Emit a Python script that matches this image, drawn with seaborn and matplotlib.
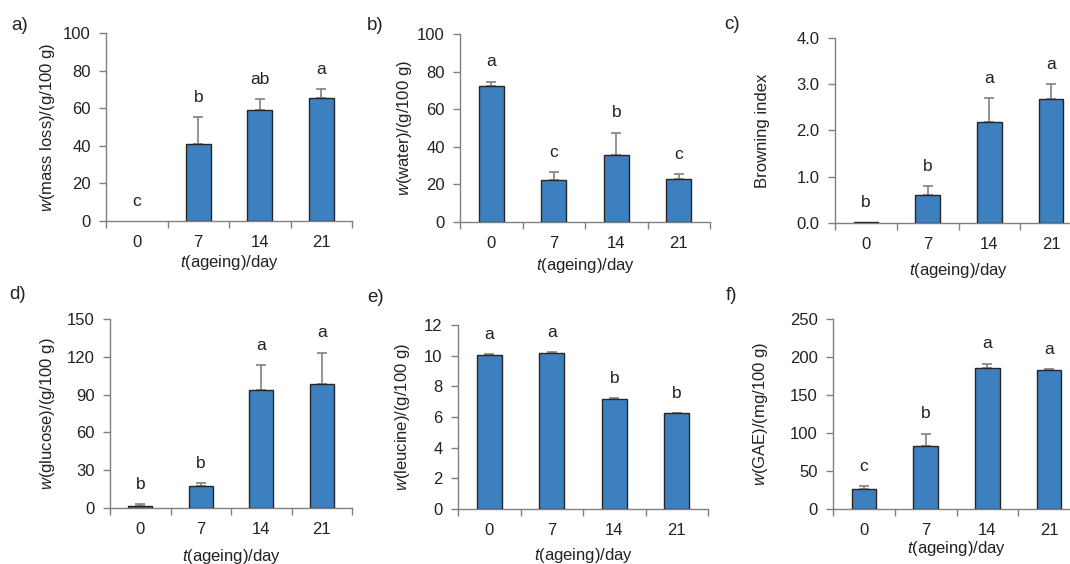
import matplotlib
matplotlib.use("Agg")
import matplotlib.pyplot as plt
import seaborn as sns
from matplotlib.ticker import FixedLocator

days = ["0", "7", "14", "21"]

mass_loss = [0.0, 40.9, 59.1, 65.4]
mass_loss_err = [0.0, 14.3, 5.7, 4.8]
mass_loss_sig = ["c", "b", "ab", "a"]

water = [72.6, 22.6, 35.9, 23.1]
water_err = [2.0, 3.9, 11.7, 2.3]
water_sig = ["a", "c", "b", "c"]

browning = [0.02, 0.61, 2.19, 2.69]
browning_err = [0.0, 0.19, 0.51, 0.32]
browning_sig = ["b", "b", "a", "a"]

glucose = [1.9, 17.8, 93.5, 98.2]
glucose_err = [1.3, 1.8, 19.9, 25.0]
glucose_sig = ["b", "b", "a", "a"]

leucine = [10.07, 10.18, 7.2, 6.24]
leucine_err = [0.04, 0.03, 0.03, 0.03]
leucine_sig = ["a", "a", "b", "b"]

gae = [26.4, 82.3, 185.7, 182.7]
gae_err = [4.0, 16.7, 5.7, 1.3]
gae_sig = ["c", "b", "a", "a"]

W, H = 1070, 564
BAR = "#3d80bf"
EDGE = "#262626"
GREY = "#808080"
TXT = "#222222"
FS = 12

sns.set_style("ticks")
plt.rcParams["font.family"] = ["Liberation Sans", "DejaVu Sans"]
plt.rcParams["mathtext.fontset"] = "custom"
plt.rcParams["mathtext.rm"] = "Liberation Sans"
plt.rcParams["mathtext.it"] = "Liberation Sans:italic"
plt.rcParams["text.color"] = TXT
plt.rcParams["axes.labelcolor"] = TXT
plt.rcParams["xtick.color"] = GREY
plt.rcParams["ytick.color"] = GREY
plt.rcParams["xtick.labelcolor"] = TXT
plt.rcParams["ytick.labelcolor"] = TXT

fig = plt.figure(figsize=(W / 100, H / 100), dpi=100)

# panel: (tag, values, errors, letters, ylabel, ymax, yticks, fmt,
#         axes px box (left, right, top, bottom), tag px (x, y), ylabel dx, xlabel dy)
panels = [
    ("a)", mass_loss, mass_loss_err, mass_loss_sig, "$w$(mass loss)/(g/100 g)",
     100, [0, 20, 40, 60, 80, 100], "{:.0f}", (106, 352, 33, 221), (11, 17), 49, 32),
    ("b)", water, water_err, water_sig, "$w$(water)/(g/100 g)",
     100, [0, 20, 40, 60, 80, 100], "{:.0f}", (460, 710, 34, 222), (367, 17), 46, 34),
    ("c)", browning, browning_err, browning_sig, "Browning index",
     4.0, [0, 1, 2, 3, 4], "{:.1f}", (835, 1082, 38, 223), (724, 16), 65, 38),
    ("d)", glucose, glucose_err, glucose_sig, "$w$(glucose)/(g/100 g)",
     150, [0, 30, 60, 90, 120, 150], "{:.0f}", (110, 352, 319, 508), (9, 286), 53, 39),
    ("e)", leucine, leucine_err, leucine_sig, "$w$(leucine)/(g/100 g)",
     12, [0, 2, 4, 6, 8, 10, 12], "{:.0f}", (458, 708, 325, 509), (367, 289), 46, 37),
    ("f)", gae, gae_err, gae_sig, "$w$(GAE)/(mg/100 g)",
     250, [0, 50, 100, 150, 200, 250], "{:.0f}", (833, 1080, 319, 509), (726, 287), 63, 30),
]

for (tag, vals, errs, sig, ylab, ymax, yticks, fmt,
     box, tagpos, ydx, xdy) in panels:
    left, right, top, bottom = box
    wpx, hpx = right - left, bottom - top
    ax = fig.add_axes([left / W, 1 - bottom / H, wpx / W, hpx / H])

    sns.barplot(x=days, y=vals, color=BAR, saturation=1, width=0.4,
                edgecolor=EDGE, linewidth=1.0, ax=ax, zorder=3)
    # zero-height bars would leave a dark stroke on the axis line
    for p in ax.patches:
        if p.get_height() == 0:
            p.set_visible(False)

    # only draw error bars that have a spread
    idx = [i for i, e in enumerate(errs) if e > 0]
    ax.errorbar(idx, [vals[i] for i in idx],
                yerr=[[0] * len(idx), [errs[i] for i in idx]], fmt="none",
                ecolor=GREY, elinewidth=1.2, capsize=3.5, capthick=1.2, zorder=2)

    for i, (v, e, s) in enumerate(zip(vals, errs, sig)):
        ax.annotate(s, (i, v + e), xytext=(0, 11), textcoords="offset points",
                    ha="center", va="baseline", fontsize=12.5, color=TXT)

    ax.set_xlim(-0.5, len(days) - 0.5)
    ax.set_ylim(0, ymax)
    ax.set_yticks(yticks)
    ax.set_yticklabels([fmt.format(t) for t in yticks])
    ax.set_xticks(range(len(days)))
    ax.set_xticklabels(days)
    ax.xaxis.set_minor_locator(FixedLocator([i - 0.5 for i in range(len(days) + 1)]))
    ax.tick_params(axis="x", which="major", length=0, pad=10, labelsize=FS)
    ax.tick_params(axis="x", which="minor", length=5, width=1, direction="out")
    ax.tick_params(axis="y", length=5, width=1, pad=6, labelsize=FS)

    for side in ["top", "right"]:
        ax.spines[side].set_visible(False)
    for side in ["left", "bottom"]:
        ax.spines[side].set_color(GREY)
        ax.spines[side].set_linewidth(1.0)

    ax.set_ylabel(ylab, fontsize=FS)
    ax.yaxis.set_label_coords(-ydx / wpx, 0.5)
    ax.set_xlabel("$t$(ageing)/day", fontsize=FS)
    ax.xaxis.set_label_coords(0.5, -xdy / hpx)

    fig.text(tagpos[0] / W, 1 - tagpos[1] / H, tag, ha="left", va="top",
             fontsize=13.5, color=TXT)

fig.savefig("out.png", dpi=100)
